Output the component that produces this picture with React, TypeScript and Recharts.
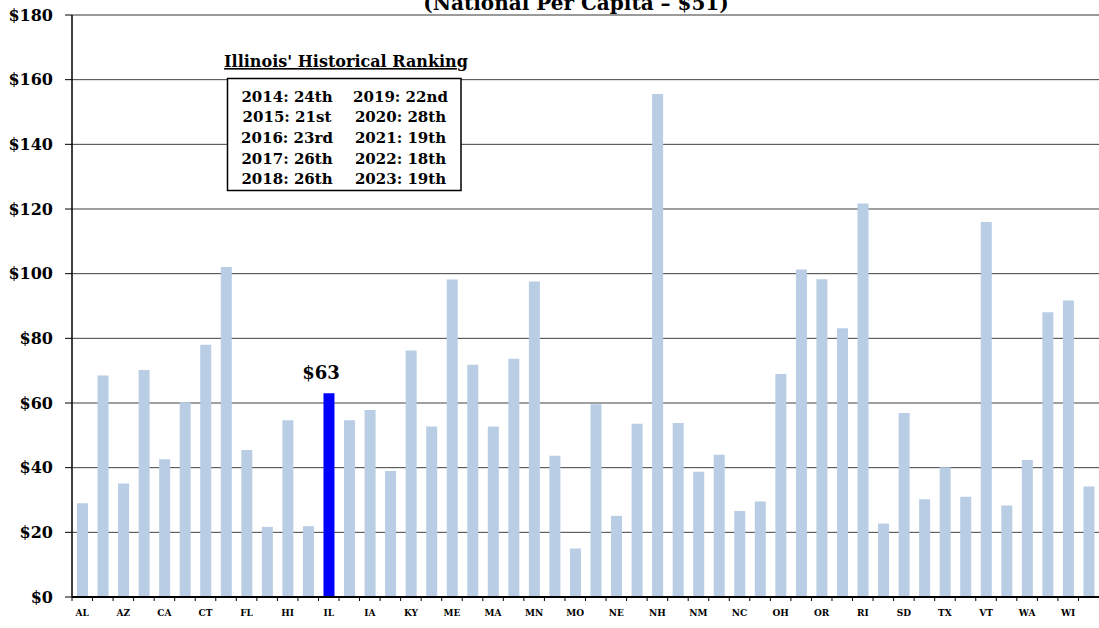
import React from 'react';
import { BarChart, Bar, XAxis, YAxis, CartesianGrid, Cell, LabelList, ReferenceLine } from 'recharts';

const states = ['AL','AK','AZ','AR','CA','CO','CT','DE','FL','GA','HI','ID','IL','IN','IA','KS','KY','LA','ME','MD','MA','MI','MN','MS','MO','MT','NE','NV','NH','NJ','NM','NY','NC','ND','OH','OK','OR','PA','RI','SC','SD','TN','TX','UT','VT','VA','WA','WV','WI','WY'];
const perCapita = [29.0,68.5,35.1,70.2,42.6,60.2,78.0,102.1,45.5,21.7,54.7,21.9,63.0,54.7,57.8,39.0,76.2,52.7,98.2,71.8,52.7,73.7,97.6,43.7,15.0,59.6,25.1,53.6,155.6,53.8,38.7,44.0,26.6,29.5,69.0,101.3,98.3,83.1,121.7,22.7,56.9,30.2,40.1,31.0,116.0,28.3,42.4,88.1,91.7,34.2];
const yTicks = [0,20,40,60,80,100,120,140,160,180];
const highlightState = 'IL';
const titleText = '(National Per Capita \u2013 $51)';
const rankingTitle = "Illinois' Historical Ranking";
const rankingLeft = ['2014: 24th','2015: 21st','2016: 23rd','2017: 26th','2018: 26th'];
const rankingRight = ['2019: 22nd','2020: 28th','2021: 19th','2022: 18th','2023: 19th'];

const data = states.map((s, i) => ({ state: s, value: perCapita[i] }));

const W = 1099;
const H = 628;
const Y_AXIS_W = 72;
const BAND = (W - Y_AXIS_W) / states.length;
const FONT = '"DejaVu Serif", serif';

const XTick = (props: any) => {
  const { x, y, payload, index } = props;
  const axisY = y - 2;
  return (
    <g>
      <line x1={x - BAND / 2} x2={x - BAND / 2} y1={axisY} y2={axisY + 4} stroke="#000" strokeWidth={1} />
      {index % 2 === 0 && (
        <text x={x} y={axisY + 19} textAnchor="middle" fontFamily={FONT} fontWeight="bold" fontSize={9} fill="#000">
          {payload.value}
        </text>
      )}
    </g>
  );
};

const ILLabel = (props: any) => {
  const { x, y, width, index, value } = props;
  if (states[index] !== highlightState) return null;
  return (
    <text x={x + width / 2 - 8} y={y - 14} textAnchor="middle" fontFamily={FONT} fontWeight="bold" fontSize={18} fill="#000">
      {`$${Math.round(value)}`}
    </text>
  );
};

export default function App() {
  return (
    <div style={{ position: 'absolute', left: 0, top: 0, width: W, height: H, background: '#fff' }}>
      <BarChart width={W} height={H} data={data} margin={{ top: 15, right: 0, bottom: 0, left: 0 }}>
        <CartesianGrid vertical={false} stroke="#404040" strokeWidth={1} />
        <XAxis
          dataKey="state"
          interval={0}
          tickLine={false}
          tickSize={0}
          tickMargin={2}
          height={31}
          axisLine={{ stroke: '#000', strokeWidth: 2 }}
          tick={<XTick />}
        />
        <YAxis
          domain={[0, 180]}
          ticks={yTicks}
          width={Y_AXIS_W}
          tickSize={7}
          tickMargin={12}
          tickFormatter={(v: number) => `$${v}`}
          axisLine={{ stroke: '#000', strokeWidth: 1.5 }}
          tickLine={{ stroke: '#000' }}
          tick={{ fontFamily: FONT, fontWeight: 'bold', fontSize: 16, fill: '#000' }}
        />
        <ReferenceLine y={180} stroke="#9a9a9a" strokeWidth={2} />
        <Bar dataKey="value" barSize={11} isAnimationActive={false}>
          {data.map((d) => (
            <Cell key={d.state} fill={d.state === highlightState ? '#0000ff' : '#b9cde5'} />
          ))}
          <LabelList dataKey="value" content={<ILLabel />} />
        </Bar>
      </BarChart>
      <svg width={W} height={H} style={{ position: 'absolute', left: 0, top: 0, pointerEvents: 'none' }}>
        <text x={576} y={10} textAnchor="middle" fontFamily={FONT} fontWeight="bold" fontSize={20} fill="#000">
          {titleText}
        </text>
        <text x={346} y={67} textAnchor="middle" fontFamily={FONT} fontWeight="bold" fontSize={16} fill="#000" textDecoration="underline">
          {rankingTitle}
        </text>
        <rect x={227.5} y={78.5} width={233.5} height={112} fill="#fff" stroke="#000" strokeWidth={1.5} />
        {rankingLeft.map((t, i) => (
          <text key={'l' + i} x={287} y={101.5 + i * 20.7} textAnchor="middle" fontFamily={FONT} fontWeight="bold" fontSize={15} fill="#000">
            {t}
          </text>
        ))}
        {rankingRight.map((t, i) => (
          <text key={'r' + i} x={400.5} y={101.5 + i * 20.7} textAnchor="middle" fontFamily={FONT} fontWeight="bold" fontSize={15} fill="#000">
            {t}
          </text>
        ))}
      </svg>
    </div>
  );
}
